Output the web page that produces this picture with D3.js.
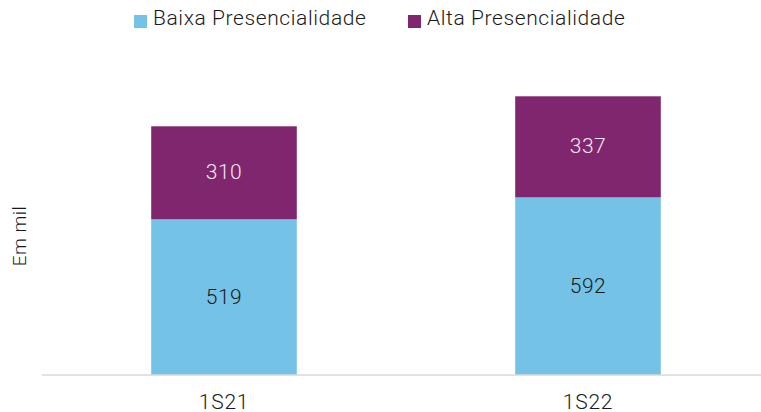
<!DOCTYPE html>
<html>
<head>
<meta charset="utf-8">
<script src="https://cdn.jsdelivr.net/npm/d3@7"></script>
<style>
  body { margin: 0; background: #fff; }
  text { font-family: Roboto, "Noto Sans", sans-serif; font-weight: 300; }
</style>
</head>
<body>
<div class="chart"></div>
<script>
var width = 761;
var height = 412;

var categories = ['1S21', '1S22'];
var series = ['Baixa Presencialidade', 'Alta Presencialidade'];
var baixa = [519, 592];
var alta = [310, 337];
var colors = ['#74c2e6', '#80266f'];
var labelColors = ['#1a1a1a', '#f0e6ee'];

var svg = d3.select('div.chart').append('svg')
    .attr('width', width)
    .attr('height', height)

var rows = categories.map(function(c, i){
    return {cat: c, 'Baixa Presencialidade': baixa[i], 'Alta Presencialidade': alta[i]}
})
var stacked = d3.stack().keys(series)(rows)

//scales
var x_scale = d3.scaleBand()
    .domain(categories)
    .range([42, 770])
    .paddingInner(0.6)
    .paddingOuter(0.3)
var y_scale = d3.scaleLinear()
    .domain([0, 1000])
    .range([375, 75])

//bars
var layer = svg.selectAll('g.layer')
    .data(stacked)
    .enter()
    .append('g')
    .attr('class', 'layer')
    .attr('fill', function(d, i){ return colors[i] })

layer.selectAll('rect')
    .data(function(d){ return d })
    .enter()
    .append('rect')
    .attr('x', function(d){ return x_scale(d.data.cat) })
    .attr('y', function(d){ return y_scale(d[1]) })
    .attr('width', x_scale.bandwidth())
    .attr('height', function(d){ return y_scale(d[0]) - y_scale(d[1]) })

//value labels
stacked.forEach(function(s, i){
    svg.append('g')
        .selectAll('text')
        .data(s)
        .enter()
        .append('text')
        .attr('x', function(d){ return x_scale(d.data.cat) + x_scale.bandwidth() / 2 })
        .attr('y', function(d){ return (y_scale(d[0]) + y_scale(d[1])) / 2 - 1 })
        .attr('dy', '0.35em')
        .style('text-anchor', 'middle')
        .style('font-size', '21px')
        .style('letter-spacing', '0.5px')
        .attr('fill', labelColors[i])
        .text(function(d){ return d[1] - d[0] })
})

//x axis
var x_axis = d3.axisBottom(x_scale).tickSize(0).tickPadding(19)
var xg = svg.append('g')
    .attr('class', 'x-axis')
    .attr('transform', 'translate(0,375)')
    .call(x_axis)
xg.select('.domain').remove()
xg.append('line')
    .attr('x1', 42).attr('x2', 761)
    .attr('stroke', '#d9d9d9')
    .attr('stroke-width', 1.5)
xg.selectAll('text')
    .style('font-size', '21px')
    .style('font-family', 'Roboto, sans-serif')
    .style('font-weight', 300)
    .style('letter-spacing', '0.8px')
    .attr('fill', '#1a1a1a')

//y label
svg.append('text')
    .attr('transform', 'translate(26,236) rotate(-90)')
    .style('text-anchor', 'middle')
    .style('font-size', '19px')
    .style('letter-spacing', '0.5px')
    .attr('fill', '#1a1a1a')
    .text('Em mil')

//legend
var legendX = [134, 408];
var leg = svg.selectAll('g.legend')
    .data(series)
    .enter()
    .append('g')
    .attr('class', 'legend')
    .attr('transform', function(d, i){ return 'translate(' + legendX[i] + ',0)' })
leg.append('rect')
    .attr('x', 0).attr('y', 15)
    .attr('width', 13).attr('height', 13)
    .attr('fill', function(d, i){ return colors[i] })
leg.append('text')
    .attr('x', 19).attr('y', 25)
    .style('font-size', '21px')
    .style('letter-spacing', '0.6px')
    .attr('fill', '#1a1a1a')
    .text(function(d){ return d })
</script>
</body>
</html>
